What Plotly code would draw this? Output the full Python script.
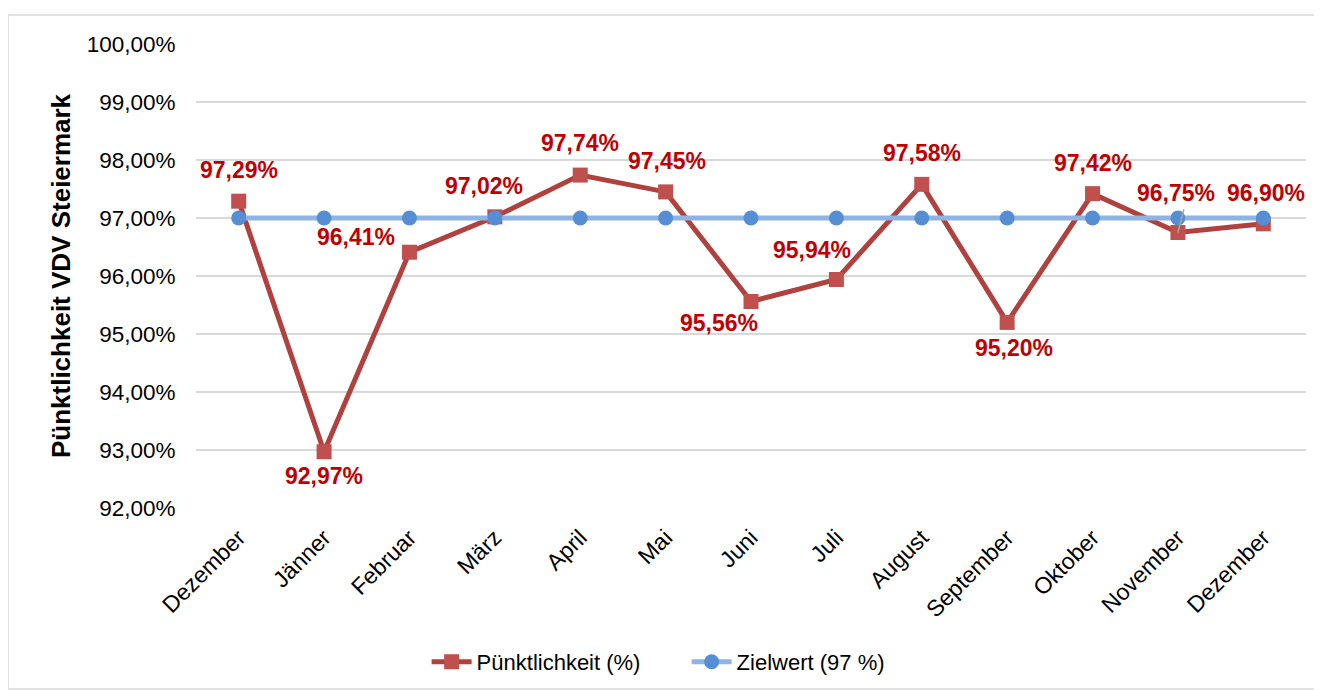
import plotly.graph_objects as go

months = ["Dezember", "Jänner", "Februar", "März", "April", "Mai", "Juni",
          "Juli", "August", "September", "Oktober", "November", "Dezember"]
puenktlichkeit = [97.29, 92.97, 96.41, 97.02, 97.74, 97.45, 95.56,
                  95.94, 97.58, 95.20, 97.42, 96.75, 96.90]
zielwert = [97.0] * 13
label_texts = ["97,29%", "92,97%", "96,41%", "97,02%", "97,74%", "97,45%", "95,56%",
               "95,94%", "97,58%", "95,20%", "97,42%", "96,75%", "96,90%"]
# label offsets (pixels) relative to each point
label_dx = [0, 0, -53, -11, 0, 1, -32, -24, 0, 7, 0, -2, 3]
label_dy = [31, -24, 15, 31, 32, 31, -21, 29, 31, -26, 31, 40, 31]

y_ticks = [92, 93, 94, 95, 96, 97, 98, 99, 100]
y_ticktext = ["92,00%", "93,00%", "94,00%", "95,00%", "96,00%", "97,00%",
              "98,00%", "99,00%", "100,00%"]

xs = list(range(len(months)))
FONT = "Liberation Sans, Arial, sans-serif"

# page has an 8px body margin; figure pixel = page pixel - 8
W, H = 1314, 682
L, T, PW, PH = 188, 36, 1110, 464

fig = go.Figure()
fig.add_trace(go.Scatter(
    x=xs, y=puenktlichkeit, mode="lines+markers", name="Pünktlichkeit (%)",
    line=dict(color="#B0413E", width=5),
    marker=dict(symbol="square", size=15, color="#C0504D"),
))
fig.add_trace(go.Scatter(
    x=xs, y=zielwert, mode="lines+markers", name="Zielwert (97 %)",
    line=dict(color="#8DB4E2", width=5),
    marker=dict(symbol="circle", size=15, color="#558ED5"),
))

for i, (xv, yv, t) in enumerate(zip(xs, puenktlichkeit, label_texts)):
    fig.add_annotation(x=xv, y=yv, text="<b>" + t + "</b>", showarrow=False,
                       xshift=label_dx[i], yshift=label_dy[i],
                       font=dict(family=FONT, size=23, color="#C00000"))

# small leader line for November label
fig.add_shape(type="line", xref="x", yref="y", x0=11, y0=96.75, x1=11.07, y1=97.15,
              line=dict(color="#A6A6A6", width=1.5))

# outer chart border
fig.add_shape(type="rect", xref="paper", yref="paper",
              x0=(0 - L) / PW, x1=(1311 - L) / PW,
              y0=(T + PH - 681) / PH, y1=(T + PH - 7) / PH,
              line=dict(color="#D9D9D9", width=1.5), fillcolor="rgba(0,0,0,0)", layer="below")

fig.update_layout(
    width=W, height=H,
    margin=dict(l=L, r=W - L - PW, t=T, b=H - T - PH, autoexpand=False),
    paper_bgcolor="white", plot_bgcolor="white",
    font=dict(family=FONT, color="#000000"),
    showlegend=True,
    legend=dict(orientation="h", x=0.442, xanchor="center", y=(T + PH - 654) / PH,
                yanchor="middle", font=dict(family=FONT, size=22, color="#000000"),
                bgcolor="rgba(0,0,0,0)",
                itemwidth=40, tracegroupgap=0, entrywidth=205, entrywidthmode="pixels"),
    xaxis=dict(
        range=[-0.5, 12.5], tickmode="array", tickvals=xs, ticktext=months,
        tickangle=-45, tickfont=dict(family=FONT, size=23, color="#000000"),
        showgrid=False, zeroline=False, showline=False, automargin=False,
        ticks="outside", ticklen=6, tickcolor="rgba(0,0,0,0)",
    ),
    yaxis=dict(
        range=[92, 100], tickmode="array", tickvals=y_ticks, ticktext=y_ticktext,
        tickfont=dict(family=FONT, size=22.5, color="#000000"),
        showgrid=True, gridcolor="#D9D9D9", gridwidth=1.5, zeroline=False, showline=False,
        automargin=False,
        ticks="outside", ticklen=15, tickcolor="rgba(0,0,0,0)",
        title=dict(text="<b>Pünktlichkeit VDV Steiermark</b>",
                   font=dict(family=FONT, size=26, color="#000000"), standoff=8),
    ),
)

fig.write_html("out.html")
